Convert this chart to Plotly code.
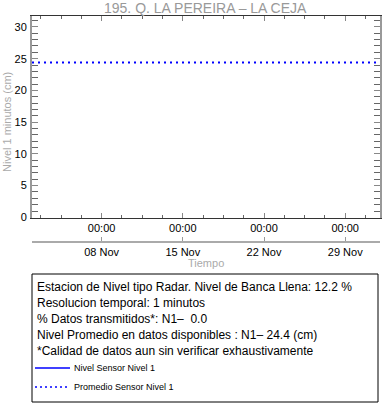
import plotly.graph_objects as go

# ---- data ----
title = "195. Q. LA PEREIRA – LA CEJA"
x_start = "2023-11-02 00:00"
x_end = "2023-12-02 00:00"
major_ticks = ["2023-11-08", "2023-11-15", "2023-11-22", "2023-11-29"]
time_labels = ["00:00", "00:00", "00:00", "00:00"]
date_labels = ["08 Nov", "15 Nov", "22 Nov", "29 Nov"]
sensor_times = []          # no data transmitted (0.0 %)
sensor_levels = []
mean_times = [x_start, x_end]
mean_level = 24.4
y_max = 31.72
info_lines = [
    "Estacion de Nivel tipo Radar. Nivel de Banca Llena: 12.2 %",
    "Resolucion temporal: 1 minutos",
    "% Datos transmitidos*: N1–  0.0",
    "Nivel Promedio en datos disponibles : N1– 24.4 (cm)",
    "*Calidad de datos aun sin verificar exhaustivamente",
]
legend_names = ["Nivel Sensor Nivel 1", "Promedio Sensor Nivel 1"]

W, H = 382, 404
def fx(p): return p / W
def fy(p): return 1 - p / H

FONT = "Liberation Sans, Arial, Helvetica, sans-serif"
BLUE = "#0000ff"

fig = go.Figure()
fig.add_trace(go.Scatter(x=sensor_times, y=sensor_levels, mode="lines",
                         line=dict(color=BLUE, width=1), showlegend=False))
fig.add_trace(go.Scatter(x=mean_times, y=[mean_level] * len(mean_times), mode="lines",
                         line=dict(color=BLUE, width=2, dash="2px,4px"), showlegend=False))
fig.add_trace(go.Scatter(x=mean_times, y=[mean_level] * len(mean_times), mode="lines",
                         xaxis="x2", line=dict(width=0), opacity=0, hoverinfo="skip",
                         showlegend=False))

xdom = [fx(32), fx(380)]
fig.update_layout(
    width=W, height=H, margin=dict(l=0, r=0, t=0, b=0, pad=0, autoexpand=False),
    paper_bgcolor="white", plot_bgcolor="white",
    font=dict(family=FONT, size=11, color="black"),
    showlegend=False,
    xaxis=dict(domain=xdom, type="date", range=[x_start, x_end], automargin=False,
               tickmode="array", tickvals=major_ticks, ticktext=time_labels,
               ticks="inside", ticklen=5, tickcolor="#888", tickwidth=1,
               minor=dict(dtick=1.75 * 86400000, tick0=major_ticks[0], ticks="inside",
                          ticklen=3, tickcolor="#666", showgrid=False),
               showline=True, linecolor="#333", linewidth=1, mirror="allticks",
               showgrid=False, zeroline=False, anchor="y",
               tickfont=dict(size=11, color="black")),
    xaxis2=dict(domain=xdom, type="date", range=[x_start, x_end], overlaying="x",
                anchor="free", position=fy(242), side="bottom", automargin=False,
                tickmode="array", tickvals=major_ticks, ticktext=date_labels,
                ticks="inside", ticklen=4, tickcolor="#999", tickwidth=1,
                showline=True, linecolor="#aaa", linewidth=2,
                showgrid=False, zeroline=False,
                tickfont=dict(size=11, color="black")),
    yaxis=dict(domain=[fy(218), fy(16)], range=[-0.1, y_max], automargin=False,
               tick0=0, dtick=5, ticks="inside", ticklen=6, tickcolor="#888",
               minor=dict(dtick=1, ticks="inside", ticklen=3, tickcolor="#666",
                          showgrid=False),
               showline=True, linecolor="#999", linewidth=2, mirror="allticks",
               showgrid=False, zeroline=False, ticklabelstandoff=1,
               tickfont=dict(size=11, color="black")),
)

def A(text, x, y, size, color, xanchor="center", angle=0):
    return dict(text=text, x=fx(x), y=fy(y), xref="paper", yref="paper",
                xanchor=xanchor, yanchor="middle", textangle=angle,
                showarrow=False, font=dict(size=size, color=color))

ann = [A(title, 206, 8, 14, "#999"),
       A("Nivel 1 minutos (cm)", 7, 122, 11, "#aaa", angle=-90),
       A("Tiempo", 206, 263, 11, "#aaa")]
line_y = [287, 303, 319, 335, 351]
for t, yy in zip(info_lines, line_y):
    ann.append(A(t, 35, yy, 12, "black", xanchor="left"))
leg_y = [368, 387]
leg_dash = ["solid", "2px,3px"]
for name, yy in zip(legend_names, leg_y):
    ann.append(A(name, 72, yy, 9, "black", xanchor="left"))

shapes = [dict(type="rect", xref="paper", yref="paper", x0=fx(32), x1=fx(378),
               y0=fy(402), y1=fy(274), line=dict(color="black", width=1))]
for yy, d in zip(leg_y, leg_dash):
    shapes.append(dict(type="line", xref="paper", yref="paper", x0=fx(35), x1=fx(70),
                       y0=fy(yy), y1=fy(yy), line=dict(color=BLUE, width=1.3, dash=d)))
fig.update_layout(annotations=ann, shapes=shapes)

fig.write_html("out.html", config={"displayModeBar": False},
               post_script="document.body.style.margin='0';")
